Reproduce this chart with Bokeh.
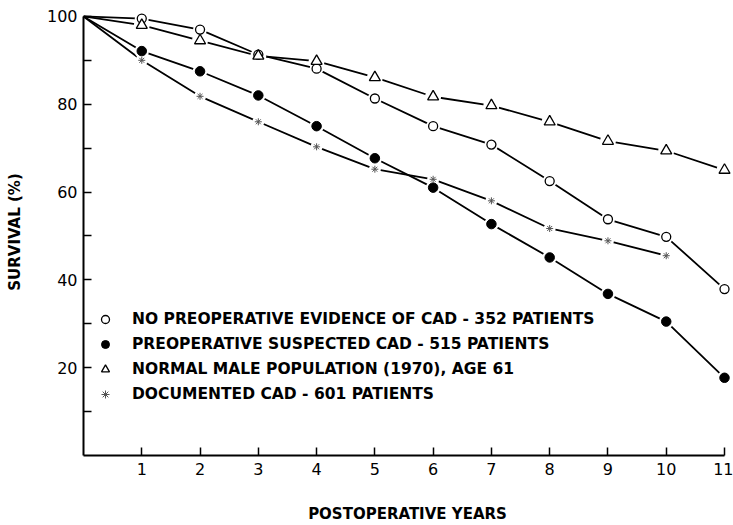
from bokeh.plotting import figure
from bokeh.models import Range1d, FixedTicker, Legend, LegendItem
from bokeh.embed import file_html
from bokeh.resources import INLINE

# ---- data ----
years = [0, 1, 2, 3, 4, 5, 6, 7, 8, 9, 10, 11]
no_evidence = [100, 99.5, 97.0, 91.3, 88.1, 81.3, 75.0, 70.8, 62.5, 53.8, 49.8, 37.9]
suspected = [100, 92.1, 87.5, 82.0, 75.0, 67.7, 61.0, 52.7, 45.1, 36.8, 30.5, 17.7]
normal_male = [100, 98.0, 94.5, 91.0, 89.8, 86.1, 81.7, 79.7, 76.0, 71.6, 69.4, 65.0]
doc_years = [0, 1, 2, 3, 4, 5, 6, 7, 8, 9, 10]
documented = [100, 90.0, 81.8, 76.0, 70.3, 65.2, 62.9, 58.0, 51.7, 48.9, 45.5]

labels = [
    "NO PREOPERATIVE EVIDENCE OF CAD - 352 PATIENTS",
    "PREOPERATIVE SUSPECTED CAD - 515 PATIENTS",
    "NORMAL MALE POPULATION (1970), AGE 61",
    "DOCUMENTED CAD - 601 PATIENTS",
]
x_ticks = [1, 2, 3, 4, 5, 6, 7, 8, 9, 10, 11]
y_ticks = [10, 20, 30, 40, 50, 60, 70, 80, 90, 100]
y_tick_labels = {10: "", 20: "20", 30: "", 40: "40", 50: "", 60: "60",
                 70: "", 80: "80", 90: "", 100: "100"}

FONT = "DejaVu Sans"

p = figure(width=733, height=525, output_backend="svg", toolbar_location=None,
           x_range=Range1d(0, 11.12), y_range=Range1d(0, 101.8),
           min_border_left=83, min_border_right=2, min_border_top=8,
           min_border_bottom=69)
p.outline_line_color = None
p.grid.visible = False
p.background_fill_color = "white"

series = [
    (years, no_evidence, dict(marker="circle", size=9, fill_color="white", line_color="black", line_width=1.3)),
    (years, suspected, dict(marker="circle", size=9.5, fill_color="black", line_color="black", line_width=1)),
    (years, normal_male, dict(marker="triangle", size=11, fill_color="white", line_color="black", line_width=1.3)),
    (doc_years, documented, dict(marker="asterisk", size=7, line_color="#555555", line_width=1)),
]

# lines
for xs, ys, _ in series:
    p.line(xs, ys, line_color="black", line_width=1.8)

# white halos (gaps around markers)
for xs, ys, st in series:
    p.scatter(xs[1:], ys[1:], marker="circle", size=st["size"] + 5,
              fill_color="white", line_color=None)

# markers
marker_renderers = []
for xs, ys, st in series:
    r = p.scatter(xs[1:], ys[1:], **st)
    marker_renderers.append(r)

legend = Legend(items=[LegendItem(label=lab, renderers=[r]) for lab, r in zip(labels, marker_renderers)],
                location=(12, 51), orientation="vertical",
                padding=0, margin=0, spacing=5, glyph_width=20, glyph_height=20,
                label_height=20, label_standoff=17,
                label_text_font=FONT, label_text_font_style="bold",
                label_text_font_size="15.5px", label_text_color="black",
                border_line_color=None, background_fill_alpha=0)
p.add_layout(legend, "center")

# axes
p.xaxis.ticker = FixedTicker(ticks=x_ticks)
p.yaxis.ticker = FixedTicker(ticks=y_ticks)
p.yaxis.major_label_overrides = y_tick_labels
p.xaxis.bounds = (0, 11)
p.yaxis.bounds = (0, 100)
for ax in (p.xaxis[0], p.yaxis[0]):
    ax.axis_line_color = "black"
    ax.axis_line_width = 2
    ax.major_tick_in = 8
    ax.major_tick_out = 0
    ax.major_tick_line_width = 1.5
    ax.minor_tick_line_color = None
    ax.major_label_text_font = FONT
    ax.major_label_text_font_size = "16px"
    ax.major_label_text_color = "black"
    ax.axis_label_text_font = FONT
    ax.axis_label_text_font_style = "bold"
    ax.axis_label_text_font_size = "15px"
    ax.axis_label_text_color = "black"

p.xaxis.axis_label = "POSTOPERATIVE YEARS"
p.yaxis.axis_label = "SURVIVAL (%)"
p.xaxis.major_label_standoff = 7
p.xaxis.axis_label_standoff = 27
p.yaxis.major_label_standoff = 6
p.yaxis.axis_label_standoff = 20

open("out.html", "w").write(file_html(p, INLINE))
